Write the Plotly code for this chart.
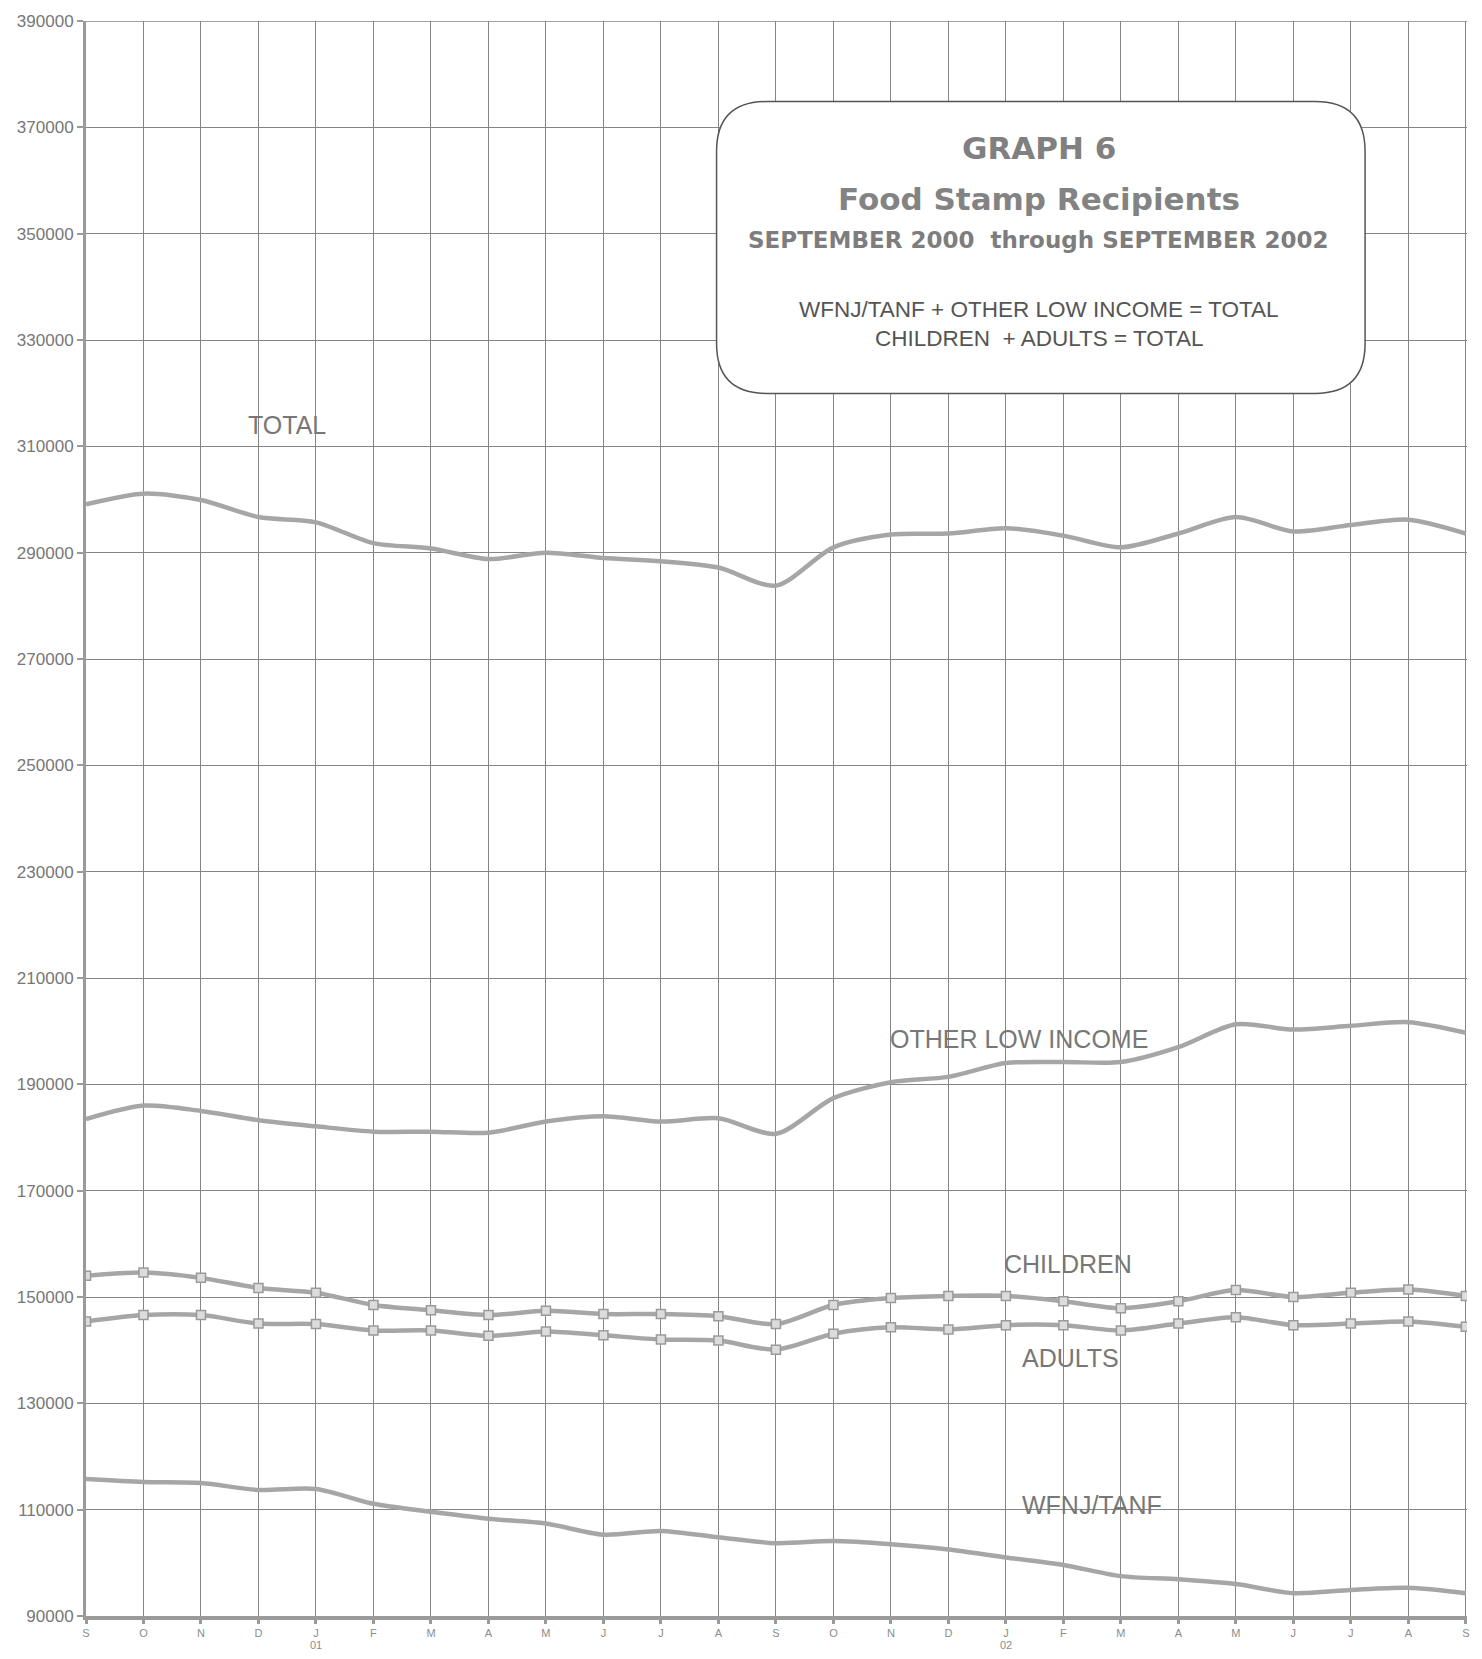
import plotly.graph_objects as go

months = ["S", "O", "N", "D", "J", "F", "M", "A", "M", "J", "J", "A", "S",
          "O", "N", "D", "J", "F", "M", "A", "M", "J", "J", "A", "S"]
year_labels = {4: "01", 16: "02"}

total = [299100, 301100, 299900, 296700, 295700, 291800, 290800, 288800, 290000,
         289000, 288400, 287200, 283800, 291000, 293400, 293600, 294600, 293200,
         291000, 293600, 296700, 294000, 295200, 296200, 293600]
other_low_income = [183450, 186000, 185000, 183250, 182100, 181100, 181100, 180900,
                    183000, 184000, 183000, 183600, 180700, 187400, 190400, 191400,
                    194000, 194200, 194200, 197000, 201300, 200300, 201000, 201700, 199700]
children = [154000, 154600, 153600, 151700, 150800, 148500, 147500, 146600, 147400,
            146800, 146800, 146400, 144900, 148500, 149800, 150200, 150200, 149200,
            147900, 149200, 151300, 150000, 150800, 151400, 150200]
adults = [145400, 146600, 146600, 145000, 144900, 143700, 143700, 142700, 143500,
          142800, 142000, 141800, 140100, 143100, 144300, 143900, 144700, 144700,
          143700, 145000, 146200, 144700, 145000, 145400, 144400]
wfnj_tanf = [115750, 115200, 115000, 113700, 113900, 111100, 109600, 108300, 107400,
             105300, 106000, 104800, 103700, 104100, 103500, 102500, 101000, 99600,
             97500, 96900, 96000, 94300, 94900, 95300, 94300]

y_ticks = list(range(90000, 390001, 20000))

x = list(range(len(months)))
LINE = "#a6a6a6"
GRID = "#858585"
TXT = "#777777"

fig = go.Figure()

def add_line(vals, markers=False):
    fig.add_trace(go.Scatter(
        x=x, y=vals, mode="lines+markers" if markers else "lines",
        line=dict(color=LINE, width=4.5, shape="spline", smoothing=0.8),
        marker=dict(symbol="square", size=9, color="#dcdcdc",
                    line=dict(color="#9a9a9a", width=1.5)),
        showlegend=False, hoverinfo="skip"))

add_line(total)
add_line(other_low_income)
add_line(children, True)
add_line(adults, True)
add_line(wfnj_tanf)

fig.update_xaxes(
    range=[0, 24.02], tickmode="array", tickvals=x, ticktext=months,
    showgrid=True, gridcolor=GRID, gridwidth=1,
    showline=True, linecolor="#9a9a9a", linewidth=4,
    ticks="outside", ticklen=4, tickwidth=3, tickcolor="#9a9a9a",
    tickfont=dict(family="Liberation Sans, Arial", size=11, color="#8c8c8c"),
    zeroline=False, fixedrange=True)
fig.update_yaxes(
    range=[90000, 390000], tickmode="array", tickvals=y_ticks,
    ticktext=[str(v) for v in y_ticks],
    showgrid=True, gridcolor=GRID, gridwidth=1,
    showline=True, linecolor="#9a9a9a", linewidth=3,
    ticks="outside", ticklen=6, tickwidth=2, tickcolor="#9a9a9a",
    tickfont=dict(family="Liberation Sans, Arial", size=17, color=TXT),
    zeroline=False, fixedrange=True)

# top gridline at 390000
fig.add_shape(type="line", xref="paper", yref="y", x0=0, x1=1, y0=390000, y1=390000,
              line=dict(color=GRID, width=1.5))

# year labels
for i, lab in year_labels.items():
    fig.add_annotation(x=i, y=0, xref="x", yref="paper", text=lab, showarrow=False,
                       yshift=-37, font=dict(family="Liberation Sans, Arial", size=11,
                                             color="#8c8c8c"))

# series labels
lab_font = dict(family="Liberation Sans, Arial", size=25, color="#777777")
series_labels = [("TOTAL", 2.78, 314100), ("OTHER LOW INCOME", 13.95, 198600),
                 ("CHILDREN", 15.93, 156200), ("ADULTS", 16.24, 138600),
                 ("WFNJ/TANF", 16.25, 110800)]
for t, lx, ly in series_labels:
    fig.add_annotation(x=lx, y=ly, xref="x", yref="y", text=t, showarrow=False,
                       xanchor="left", yanchor="middle", font=lab_font)

# rounded title box
x0, x1, y0, y1 = 0.4566, 0.9262, 0.7665, 0.9495
rx, ry = 0.0362, 0.03125
path = (f"M {x0+rx},{y1} L {x1-rx},{y1} Q {x1},{y1} {x1},{y1-ry} "
        f"L {x1},{y0+ry} Q {x1},{y0} {x1-rx},{y0} L {x0+rx},{y0} "
        f"Q {x0},{y0} {x0},{y0+ry} L {x0},{y1-ry} Q {x0},{y1} {x0+rx},{y1} Z")
fig.add_shape(type="path", xref="paper", yref="paper", path=path,
              fillcolor="white", line=dict(color="#555555", width=1.5), layer="above")

cx = 0.690
box_texts = [
    ("GRAPH 6", 0.9205, dict(family="DejaVu Sans", size=31, color="#808080", weight="bold")),
    ("Food Stamp Recipients", 0.8886, dict(family="DejaVu Sans", size=31, color="#838383", weight="bold")),
    ("SEPTEMBER 2000  through SEPTEMBER 2002", 0.8624, dict(family="DejaVu Sans", size=23, color="#7d7d7d", weight="bold")),
    ("WFNJ/TANF + OTHER LOW INCOME = TOTAL", 0.81925, dict(family="Liberation Sans, Arial", size=22.5, color="#555555")),
    ("CHILDREN  + ADULTS = TOTAL", 0.801, dict(family="Liberation Sans, Arial", size=22.5, color="#555555")),
]
for t, yy, f in box_texts:
    fig.add_annotation(x=cx, y=yy, xref="paper", yref="paper", text=t.replace("  ", "&nbsp; "),
                       showarrow=False, xanchor="center", yanchor="middle", font=f)

fig.update_layout(
    width=1482, height=1659,
    margin=dict(l=86, r=14, t=16, b=43),
    paper_bgcolor="white", plot_bgcolor="white",
)

fig.write_html("out.html", config={"displayModeBar": False},
               post_script="document.body.style.margin='0';document.body.style.overflow='hidden';")
